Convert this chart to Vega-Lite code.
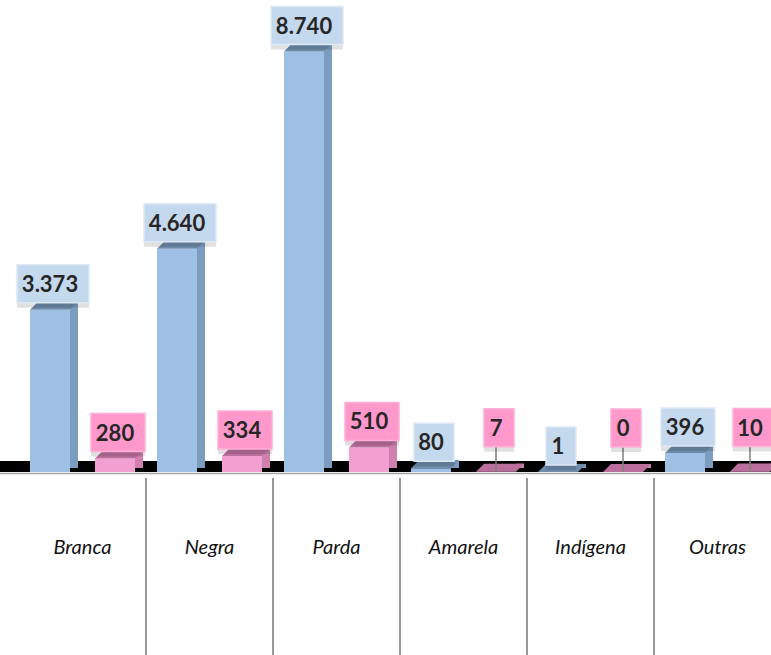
{
  "$schema": "https://vega.github.io/schema/vega-lite/v6.json",
  "width": 771,
  "height": 655,
  "padding": 0,
  "autosize": {"type": "none"},
  "config": {
    "view": {"stroke": null},
    "locale": {"number": {"decimal": ",", "thousands": ".", "grouping": [3], "currency": ["R$", ""]}}
  },
  "data": {
    "values": [
      {"cat": "Branca", "grupo": "Homens", "value": 3373},
      {"cat": "Branca", "grupo": "Mulheres", "value": 280},
      {"cat": "Negra", "grupo": "Homens", "value": 4640},
      {"cat": "Negra", "grupo": "Mulheres", "value": 334},
      {"cat": "Parda", "grupo": "Homens", "value": 8740},
      {"cat": "Parda", "grupo": "Mulheres", "value": 510},
      {"cat": "Amarela", "grupo": "Homens", "value": 80},
      {"cat": "Amarela", "grupo": "Mulheres", "value": 7},
      {"cat": "Indígena", "grupo": "Homens", "value": 1},
      {"cat": "Indígena", "grupo": "Mulheres", "value": 0},
      {"cat": "Outras", "grupo": "Homens", "value": 396},
      {"cat": "Outras", "grupo": "Mulheres", "value": 10}
    ]
  },
  "transform": [{"calculate": "length(format(datum.value, ',d'))", "as": "n"}],
  "layer": [
    {
      "transform": [{"filter": "datum.cat == 'Branca' && datum.grupo == 'Homens'"}],
      "mark": {"type": "rule", "color": "#a6a6a6", "strokeWidth": 1.5, "yOffset": 1.5},
      "encoding": {"y": {"datum": 0, "type": "quantitative", "axis": null, "scale": {"domain": [-3805, 9813], "nice": false, "zero": false}}}
    },
    {
      "transform": [{"filter": "datum.cat == 'Branca' && datum.grupo == 'Homens'"}],
      "mark": {"type": "rule", "color": "#000000", "strokeWidth": 11, "yOffset": -5.5},
      "encoding": {"y": {"datum": 0, "type": "quantitative"}}
    },
    {
      "mark": {"type": "bar"},
      "encoding": {
        "x": {"field": "cat", "type": "nominal", "sort": null, "axis": null, "scale": {"domain": ["Branca", "Negra", "Parda", "Amarela", "Indígena", "Outras"], "range": [19, 781], "paddingInner": 0, "paddingOuter": 0}},
        "xOffset": {"field": "grupo", "type": "nominal", "sort": null, "scale": {"domain": ["Homens", "Mulheres"], "paddingInner": 0.3846, "paddingOuter": 0.1692}},
        "y": {"field": "value", "type": "quantitative"},
        "y2": {"datum": 0},
        "color": {"condition": {"test": "datum.grupo == 'Homens'", "value": "#9dc0e4"}, "value": "#f2a0d2"}
      }
    },
    {
      "mark": {"type": "bar", "width": 8, "xOffset": {"expr": "datum.grupo == 'Homens' ? -8.5 : 56.5"}, "yOffset": -8, "y2Offset": -4},
      "encoding": {
        "x": {"field": "cat", "type": "nominal", "sort": null},
        "y": {"field": "value", "type": "quantitative"},
        "y2": {"datum": 0},
        "color": {"condition": {"test": "datum.grupo == 'Homens'", "value": "#7c9dc0"}, "value": "#cf80ae"}
      }
    },
    {
      "mark": {"type": "point", "shape": "M-20,0L20,0L28,-8L-12,-8Z", "size": 4, "filled": true, "opacity": 1, "strokeWidth": 0},
      "encoding": {
        "x": {"field": "cat", "type": "nominal", "sort": null},
        "xOffset": {"field": "grupo", "type": "nominal", "sort": null},
        "y": {"field": "value", "type": "quantitative"},
        "color": {"condition": {"test": "datum.grupo == 'Homens'", "value": "#6e8bab"}, "value": "#bb6f9c"}
      }
    },
    {
      "transform": [{"filter": "datum.grupo == 'Homens' && datum.cat != 'Branca'"}],
      "mark": {"type": "rule", "color": "#333333", "strokeWidth": 1},
      "encoding": {
        "x": {"field": "cat", "type": "nominal", "sort": null, "bandPosition": 0},
        "y": {"datum": -125, "type": "quantitative"},
        "y2": {"datum": -3805}
      }
    },
    {
      "transform": [{"filter": "datum.grupo == 'Homens'"}],
      "mark": {"type": "text", "font": "Lato", "fontStyle": "italic", "fontSize": 20, "color": "#111111", "baseline": "middle", "align": "center"},
      "encoding": {
        "x": {"field": "cat", "type": "nominal", "sort": null},
        "y": {"datum": -1580, "type": "quantitative"},
        "text": {"field": "cat"}
      }
    },
    {
      "transform": [{"filter": "datum.grupo == 'Mulheres' && datum.value < 20"}],
      "mark": {"type": "rule", "color": "#7f7f7f", "strokeWidth": 1.5, "yOffset": -25},
      "encoding": {
        "x": {"field": "cat", "type": "nominal", "sort": null},
        "xOffset": {"field": "grupo", "type": "nominal", "sort": null},
        "y": {"field": "value", "type": "quantitative"},
        "y2": {"field": "value"}
      }
    },
    {
      "mark": {"type": "point", "size": 4, "filled": true, "opacity": 0.12, "color": "#000000", "strokeWidth": 0, "yOffset": {"expr": "(datum.grupo == 'Mulheres' && datum.value < 20 ? -44 : -26) + 5"}},
      "encoding": {
        "x": {"field": "cat", "type": "nominal", "sort": null},
        "xOffset": {"field": "grupo", "type": "nominal", "sort": null},
        "y": {"field": "value", "type": "quantitative"},
        "shape": {"field": "n", "type": "nominal", "legend": null, "scale": {"domain": [1, 2, 3, 5], "range": ["M-12,-19H18V19H-12Z", "M-17,-19H23V19H-17Z", "M-24,-19H30V19H-24Z", "M-33,-19H39V19H-33Z"]}}
      }
    },
    {
      "mark": {"type": "point", "size": 4, "filled": true, "opacity": 1, "strokeWidth": 1.5, "yOffset": {"expr": "datum.grupo == 'Mulheres' && datum.value < 20 ? -44 : -26"}},
      "encoding": {
        "x": {"field": "cat", "type": "nominal", "sort": null},
        "xOffset": {"field": "grupo", "type": "nominal", "sort": null},
        "y": {"field": "value", "type": "quantitative"},
        "shape": {"field": "n", "type": "nominal", "legend": null},
        "fill": {"condition": {"test": "datum.grupo == 'Homens'", "value": "#c5d9ee"}, "value": "#ff99cc"},
        "stroke": {"condition": {"test": "datum.grupo == 'Homens'", "value": "#dde9f5"}, "value": "#ffb0d8"}
      }
    },
    {
      "mark": {"type": "text", "font": "Lato", "fontWeight": "bold", "fontSize": 22, "color": "#262626", "baseline": "middle", "align": "center", "yOffset": {"expr": "(datum.grupo == 'Mulheres' && datum.value < 20 ? -44 : -26) + 1"}},
      "encoding": {
        "x": {"field": "cat", "type": "nominal", "sort": null},
        "xOffset": {"field": "grupo", "type": "nominal", "sort": null},
        "y": {"field": "value", "type": "quantitative"},
        "text": {"field": "value", "type": "quantitative", "format": ",d"}
      }
    }
  ]
}
